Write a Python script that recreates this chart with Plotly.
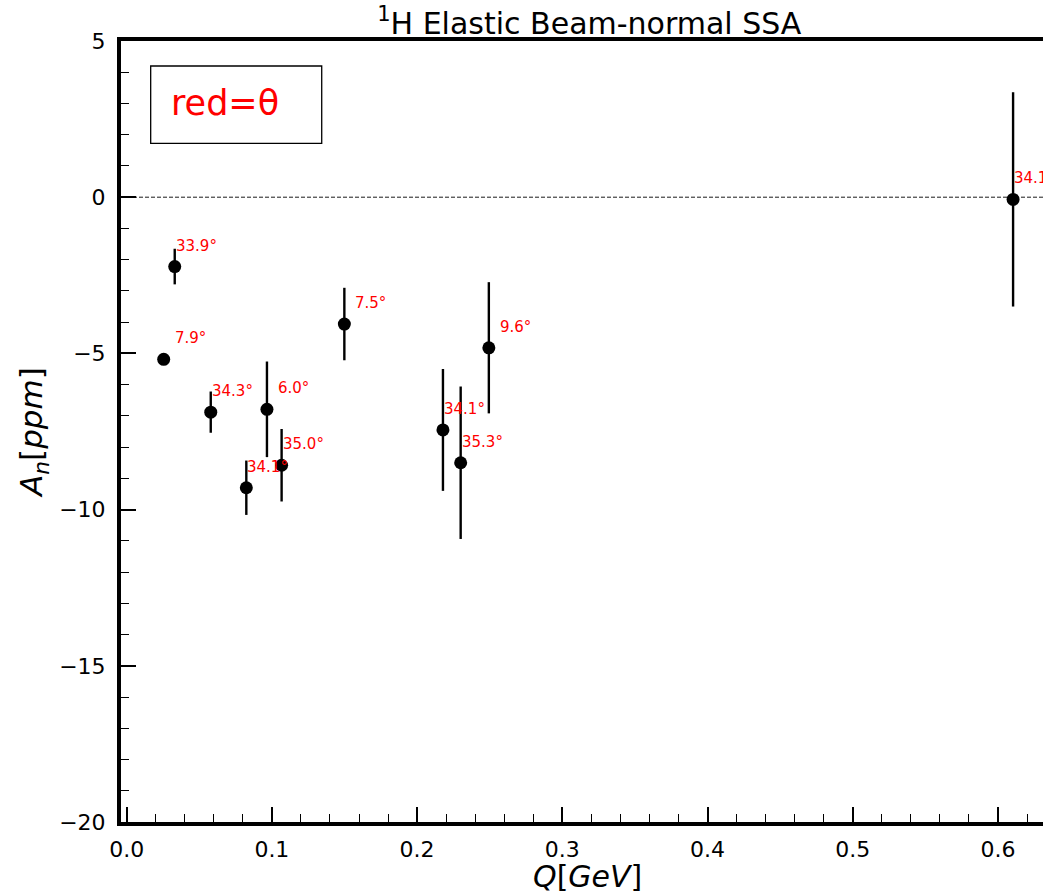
import plotly.graph_objects as go

# ---- data ----
q_gev = [0.0331, 0.0255, 0.0579, 0.0966, 0.0824, 0.1067, 0.1499, 0.2178, 0.2300, 0.2494, 0.6104]
an_ppm = [-2.22, -5.19, -6.88, -6.79, -9.30, -8.58, -4.06, -7.45, -8.50, -4.82, -0.07]
an_err = [0.57, 0.15, 0.66, 1.53, 0.87, 1.16, 1.16, 1.95, 2.44, 2.10, 3.43]
theta_labels = ["33.9", "7.9", "34.3", "6.0", "34.1", "35.0", "7.5", "34.1", "35.3", "9.6", "34.1"]

x_ticks = [0.0, 0.1, 0.2, 0.3, 0.4, 0.5, 0.6]
y_ticks = [5, 0, -5, -10, -15, -20]

FONT = "DejaVu Sans"

fig = go.Figure()
fig.add_trace(go.Scatter(
    x=q_gev, y=an_ppm, mode="markers",
    marker=dict(color="black", size=13),
    error_y=dict(type="data", array=an_err, visible=True, color="black",
                 thickness=2.4, width=0),
    showlegend=False, hoverinfo="skip",
))

annotations = []
for xv, yv, lab in zip(q_gev, an_ppm, theta_labels):
    annotations.append(dict(
        x=xv, y=yv, xref="x", yref="y", text=lab + "°",
        showarrow=False, xanchor="left", yanchor="middle",
        xshift=-1 if len(lab) >= 4 else 9, yshift=21,
        font=dict(family=FONT, size=15, color="red"),
    ))

annotations.append(dict(
    x=0.052, y=0.921, xref="paper", yref="paper", text="red=θ",
    showarrow=False, xanchor="left", yanchor="middle",
    font=dict(family=FONT, size=35, color="red"),
))

# x-axis title (placed as annotation to match the reference's centring)
annotations.append(dict(
    x=0.5065, y=-0.0695, xref="paper", yref="paper", text="<i>Q</i>[<i>GeV</i>]",
    showarrow=False, xanchor="center", yanchor="middle", borderpad=0,
    font=dict(family=FONT, size=30, color="black"),
))

shapes = [
    dict(type="line", xref="paper", yref="y", x0=0, x1=1, y0=0, y1=0,
         line=dict(color="black", width=0.9, dash="4px,2px"), layer="below"),
    dict(type="rect", xref="paper", yref="paper", x0=0.0322, x1=0.2177, y0=0.869, y1=0.968,
         line=dict(color="black", width=1.3), fillcolor="rgba(0,0,0,0)"),
]

axis_common = dict(
    showgrid=False, zeroline=False, showline=True, linecolor="black", linewidth=4,
    ticks="inside", ticklen=15, tickwidth=1.6, tickcolor="black",
    tickfont=dict(family=FONT, size=22, color="black"),
)

fig.update_layout(
    width=1043, height=895,
    margin=dict(l=121, r=0, t=41, b=73),
    paper_bgcolor="white", plot_bgcolor="white",
    title=dict(text="<sup>1</sup>H Elastic Beam-normal SSA", x=0.565, xanchor="center",
               y=0.974, yanchor="middle",
               font=dict(family=FONT, size=30, color="black")),
    xaxis=dict(range=[-0.0039, 0.631], tickvals=x_ticks, tickformat=".1f",
               mirror=True,
               minor=dict(dtick=0.02, tick0=0, ticks="inside", ticklen=8,
                          tickwidth=1.4, tickcolor="black"),
               ticklabelstandoff=5,
               **axis_common),
    yaxis=dict(range=[-20, 5], tickvals=y_ticks,
               mirror=False,
               minor=dict(dtick=1, tick0=0, ticks="inside", ticklen=8,
                          tickwidth=1.4, tickcolor="black"),
               title=dict(text="<i>A<sub>n</sub></i>[<i>ppm</i>]", standoff=8,
                          font=dict(family=FONT, size=31, color="black")),
               ticklabelstandoff=7,
               **axis_common),
    annotations=annotations,
    shapes=shapes,
)

fig.write_html("out.html")
